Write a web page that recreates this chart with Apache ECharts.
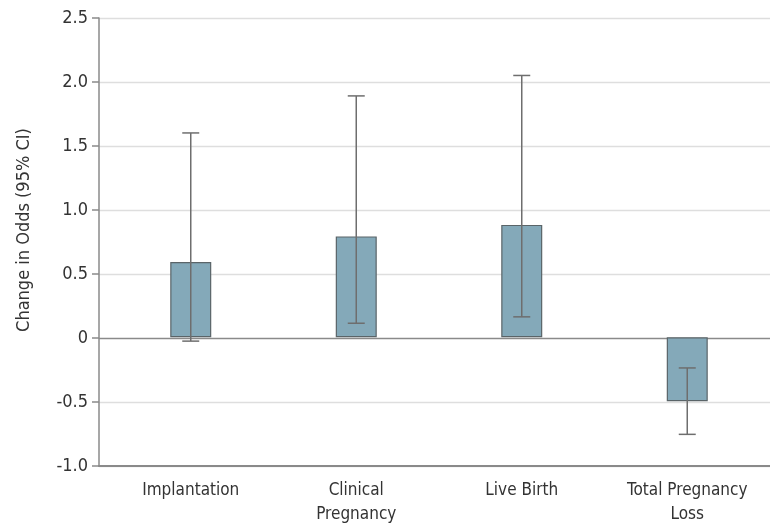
<!DOCTYPE html>
<html><head><meta charset="utf-8">
<script src="https://cdn.jsdelivr.net/npm/echarts@6/dist/echarts.min.js"></script>
<style>html,body{margin:0;padding:0;background:#fff}#c{width:770px;height:527px}</style>
</head><body><div id="c"></div>
<script>
const categories = ['Implantation', 'Clinical\nPregnancy', 'Live Birth', 'Total Pregnancy\nLoss'];
const values = [0.59, 0.79, 0.88, -0.50];
const ciLower = [-0.03, 0.11, 0.16, -0.76];
const ciUpper = [1.60, 1.89, 2.05, -0.24];
const yTicks = [-1.0, -0.5, 0, 0.5, 1.0, 1.5, 2.0, 2.5];

const FONT = '"Liberation Sans Narrow", "DejaVu Sans Condensed", "Roboto", sans-serif';
const chart = echarts.init(document.getElementById('c'));
const errData = categories.map((c, i) => [i, ciLower[i], ciUpper[i]]);
const gridColors = yTicks.map(v => v === 0 ? '#8a8a8a' : '#dedede');

chart.setOption({
  animation: false,
  grid: [
    {left: 99, right: 0, top: 18, bottom: 61},
    {left: 108, right: -2, top: 18, bottom: 61}
  ],
  xAxis: [
    {gridIndex: 0, type: 'value', min: 0, max: 1,
     axisLine: {show: true, onZero: false, lineStyle: {color: '#8a8a8a', width: 2}},
     axisTick: {show: false}, axisLabel: {show: false}, splitLine: {show: false}},
    {gridIndex: 1, type: 'category', data: categories,
     axisLine: {show: false, onZero: false},
     axisTick: {show: false},
     axisLabel: {fontFamily: FONT, fontSize: 17, color: '#333', margin: 14, lineHeight: 24}}
  ],
  yAxis: [
    {gridIndex: 0, type: 'value', min: -1, max: 2.5, interval: 0.5,
     name: 'Change in Odds (95% CI)', nameLocation: 'middle', nameGap: 66,
     nameTextStyle: {fontFamily: FONT, fontSize: 18, color: '#333', padding: [0, 0, 0, 24]},
     axisLine: {show: true, lineStyle: {color: '#8a8a8a', width: 1.5}},
     axisTick: {show: true, length: 7, lineStyle: {color: '#8a8a8a', width: 1.5}},
     axisLabel: {fontFamily: FONT, fontSize: 18, color: '#333', margin: 11,
       formatter: v => v === 0 ? '0' : v.toFixed(1)},
     splitLine: {show: true, lineStyle: {color: gridColors, width: 1.3}}},
    {gridIndex: 1, type: 'value', min: -1, max: 2.5, interval: 0.5, show: false,
     splitLine: {show: false}}
  ],
  series: [
    {type: 'bar', xAxisIndex: 1, yAxisIndex: 1, data: values, barWidth: 41,
     itemStyle: {color: '#84a9b9', borderColor: '#5a6468', borderWidth: 1.2}},
    {type: 'custom', xAxisIndex: 1, yAxisIndex: 1, data: errData, z: 5,
     renderItem: function (params, api) {
       const x = api.value(0);
       const lo = api.coord([x, api.value(1)]);
       const hi = api.coord([x, api.value(2)]);
       const hw = 8.5;
       const style = {stroke: '#6e6e6e', lineWidth: 1.5};
       return {type: 'group', children: [
         {type: 'line', shape: {x1: lo[0], y1: lo[1], x2: hi[0], y2: hi[1]}, style: style},
         {type: 'line', shape: {x1: hi[0] - hw, y1: hi[1], x2: hi[0] + hw, y2: hi[1]}, style: style},
         {type: 'line', shape: {x1: lo[0] - hw, y1: lo[1], x2: lo[0] + hw, y2: lo[1]}, style: style}
       ]};
     }}
  ]
});
</script></body></html>
